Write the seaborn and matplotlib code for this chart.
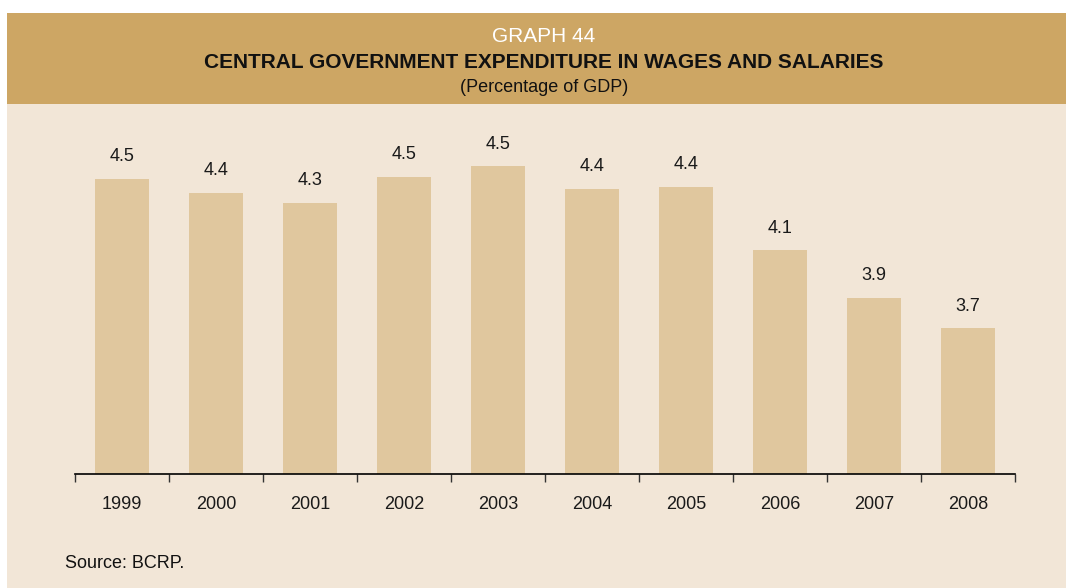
import matplotlib
matplotlib.use("Agg")
import matplotlib.pyplot as plt
from matplotlib.patches import Rectangle
from matplotlib.ticker import FixedLocator
import seaborn as sns
import numpy as np

# Central government wages and salaries, % of GDP
years = ["1999", "2000", "2001", "2002", "2003", "2004", "2005", "2006", "2007", "2008"]
values = [4.46, 4.39, 4.34, 4.47, 4.52, 4.41, 4.42, 4.11, 3.88, 3.73]

graph_label = "GRAPH 44"
title = "CENTRAL GOVERNMENT EXPENDITURE IN WAGES AND SALARIES"
subtitle = "(Percentage of GDP)"
source = "Source: BCRP."

BAND = "#CDA664"
PANEL = "#F2E6D7"
BAR = "#E0C79E"

sns.set_theme(style="white")
plt.rcParams["font.family"] = ["Liberation Sans", "DejaVu Sans"]

W, H = 1066, 588
fig = plt.figure(figsize=(W / 100, H / 100), dpi=100, facecolor="white")

# header band and panel background (kept behind the axes)
fig.patches.append(Rectangle((7 / W, (H - 104) / H), 1 - 7 / W, 91 / H,
                             transform=fig.transFigure, facecolor=BAND,
                             edgecolor="none", zorder=-2))
fig.patches.append(Rectangle((7 / W, 0), 1 - 7 / W, (H - 104) / H,
                             transform=fig.transFigure, facecolor=PANEL,
                             edgecolor="none", zorder=-2))

ax = fig.add_axes([75 / W, (H - 474) / H, (1015 - 75) / W, (474 - 109) / H])
ax.set_facecolor("none")
ax.set_zorder(1)

sns.barplot(x=years, y=values, color=BAR, saturation=1, width=0.565,
            linewidth=0, edgecolor="none", ax=ax)

ax.set_xlim(-0.5, len(years) - 0.5)
ax.set_ylim(3.02, 4.8)

for i, v in enumerate(values):
    ax.annotate(f"{v:.1f}", (i, v), xytext=(0, 10), textcoords="offset points",
                ha="center", va="bottom", fontsize=13, color="#1a1a1a")

for side in ["top", "left", "right"]:
    ax.spines[side].set_visible(False)
ax.spines["bottom"].set_color("black")
ax.spines["bottom"].set_linewidth(1.2)

ax.set_yticks([])
ax.set_xlabel("")
ax.set_ylabel("")
ax.tick_params(axis="x", which="major", length=0, pad=15.5, labelsize=13,
               labelcolor="#1a1a1a")
ax.xaxis.set_minor_locator(FixedLocator(np.arange(-0.5, len(years), 1.0)))
ax.tick_params(axis="x", which="minor", length=5.5, width=1.0, color="#333333",
               direction="out", bottom=True)

cx = 544 / W
fig.text(cx, 1 - 37 / H, graph_label, ha="center", va="center",
         fontsize=15, color="white")
fig.text(cx, 1 - 62.5 / H, title, ha="center", va="center",
         fontsize=15, fontweight="bold", color="#111111")
fig.text(cx, 1 - 88 / H, subtitle, ha="center", va="center",
         fontsize=13, color="#111111")
fig.text(65 / W, 1 - 563 / H, source, ha="left", va="center",
         fontsize=13, color="#111111")

fig.savefig("out.png", dpi=100, facecolor=fig.get_facecolor())
